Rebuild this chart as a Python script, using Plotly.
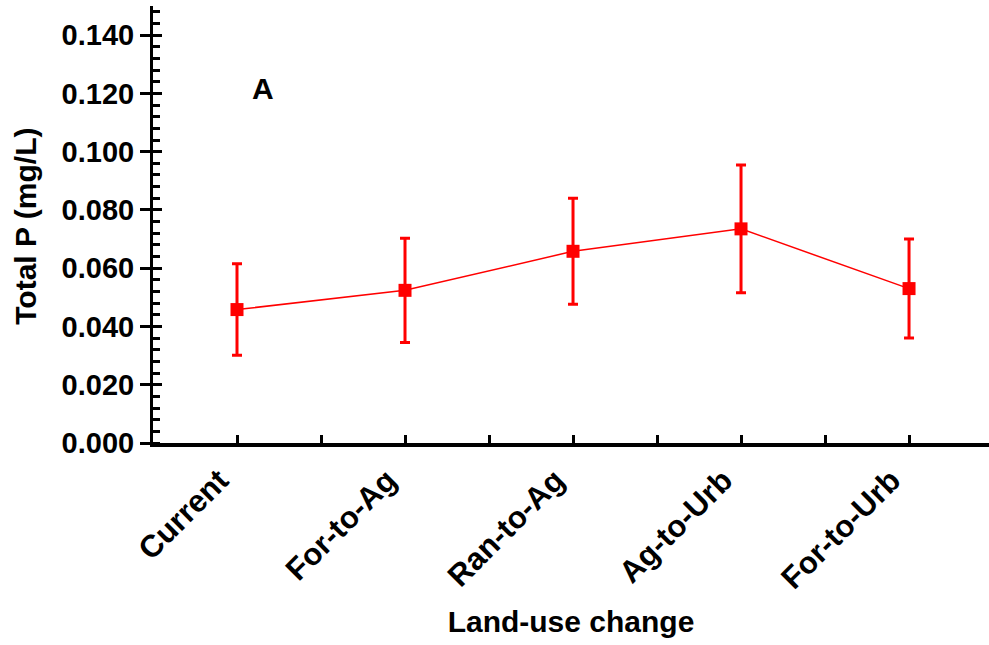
import plotly.graph_objects as go

# Land-use change scenarios and mean total phosphorus with error bars
categories = ["Current", "For-to-Ag", "Ran-to-Ag", "Ag-to-Urb", "For-to-Urb"]
total_p = [0.0458, 0.0524, 0.0658, 0.0735, 0.0530]
err_p = [0.0157, 0.0179, 0.0182, 0.0219, 0.0170]

y_tick_vals = [0.000, 0.020, 0.040, 0.060, 0.080, 0.100, 0.120, 0.140]
y_tick_text = ["0.000", "0.020", "0.040", "0.060", "0.080", "0.100", "0.120", "0.140"]

FONT = "Liberation Sans, Arial, sans-serif"
RED = "#FF0000"
X_RANGE = [-0.5, 4.476]
LABEL_SHIFT = -0.105  # nudge rotated category labels left of their ticks

x_pos = list(range(len(categories)))
x_tick_vals = [i * 0.5 for i in range(2 * len(categories) - 1)]

fig = go.Figure()
fig.add_trace(go.Scatter(
    x=x_pos, y=total_p,
    mode="lines+markers",
    line=dict(color=RED, width=1.5),
    marker=dict(symbol="square", size=13, color=RED),
    error_y=dict(type="data", array=err_p, visible=True,
                 color=RED, thickness=3, width=5),
    showlegend=False,
))
# invisible traces on the overlay axes so their ticks / labels are drawn
fig.add_trace(go.Scatter(x=[0], y=[0], yaxis="y2", mode="markers",
                         marker=dict(opacity=0), showlegend=False,
                         hoverinfo="skip"))
fig.add_trace(go.Scatter(x=[0], y=[0], xaxis="x2", mode="markers",
                         marker=dict(opacity=0), showlegend=False,
                         hoverinfo="skip"))

fig.add_annotation(x=0.155, y=0.1217, xref="x", yref="y", text="A",
                   showarrow=False,
                   font=dict(family=FONT, size=30, color="black", weight="bold"))

# y-axis title placed as rotated text left of the tick labels
fig.add_annotation(x=-0.152, y=0.497, xref="paper", yref="paper",
                   text="Total P (mg/L)", textangle=-90, showarrow=False,
                   xanchor="center", yanchor="middle",
                   font=dict(family=FONT, size=30, color="black", weight="bold"))

fig.update_layout(
    width=989, height=645,
    margin=dict(l=153, r=0, t=6, b=202),
    paper_bgcolor="white", plot_bgcolor="white",
    xaxis=dict(
        range=X_RANGE,
        tickmode="array", tickvals=x_tick_vals, showticklabels=False,
        ticks="inside", ticklen=8, tickwidth=2.5, tickcolor="black",
        showline=True, linecolor="black", linewidth=3.5,
        showgrid=False, zeroline=False,
    ),
    xaxis2=dict(
        overlaying="x", anchor="y", side="bottom", range=X_RANGE,
        tickmode="array", tickvals=[p + LABEL_SHIFT for p in x_pos],
        ticktext=categories, tickangle=-45, ticks="",
        ticklabelstandoff=12,
        showline=False, showgrid=False, zeroline=False,
        tickfont=dict(family=FONT, size=31, color="black", weight="bold"),
        title=dict(text="Land-use change", standoff=16,
                   font=dict(family=FONT, size=30, color="black", weight="bold")),
    ),
    yaxis=dict(
        range=[0, 0.150],
        tickmode="array", tickvals=y_tick_vals, ticktext=y_tick_text,
        ticks="outside", ticklen=10, tickwidth=2.5, tickcolor="black",
        minor=dict(dtick=0.004, tick0=0, ticks="inside", ticklen=7,
                   tickwidth=2.5, tickcolor="black"),
        showline=True, linecolor="black", linewidth=3,
        showgrid=False, zeroline=False,
        tickfont=dict(family=FONT, size=29, color="black", weight="bold"),
    ),
    yaxis2=dict(
        overlaying="y", side="left", range=[0, 0.150],
        tickmode="array", tickvals=y_tick_vals, showticklabels=False,
        ticks="inside", ticklen=9, tickwidth=2.5, tickcolor="black",
        showline=False, showgrid=False, zeroline=False,
    ),
)

fig.write_html("out.html")
